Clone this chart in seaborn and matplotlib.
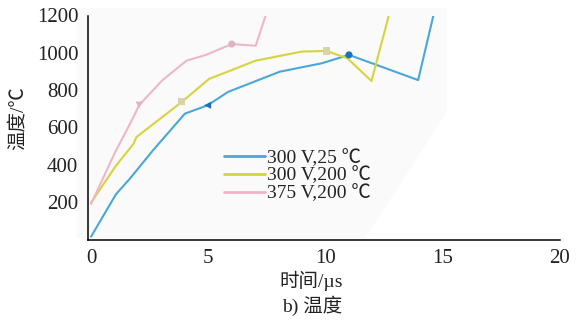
import matplotlib
matplotlib.use("Agg")
import matplotlib.pyplot as plt
from matplotlib.patches import Polygon
import pandas as pd
import seaborn as sns

# Time (µs) and temperature (°C) traces for three operating conditions
blue_t = [0, 1.06, 1.67, 2.63, 4.0, 4.97, 5.85, 8.05, 9.84, 11.0, 13.95, 14.6]
blue_T = [15, 242, 328, 476, 674, 719, 791, 899, 944, 989, 854, 1200]

yellow_t = [0, 1.06, 1.81, 1.93, 3.87, 5.03, 7.02, 9.0, 10.04, 10.93, 11.96, 12.7]
yellow_T = [198, 395, 512, 548, 737, 860, 958, 1007, 1010, 971, 849, 1200]

pink_t = [0, 0.99, 1.81, 2.05, 3.05, 4.07, 4.9, 6.0, 7.02, 7.45]
pink_T = [190, 458, 656, 720, 854, 958, 989, 1047, 1038, 1200]

series_names = ["300 V,25 \u2103", "300 V,200 \u2103", "375 V,200 \u2103"]
x_ticks = [0, 5, 10, 15, 20]
y_ticks = [200, 400, 600, 800, 1000, 1200]

# vertices that carry a point marker on each trace
blue_marks = [5, 9]
yellow_marks = [4, 8]
pink_marks = [3, 7]

colors = ["#4aa7d8", "#d6d43e", "#f0b6c8"]
mark_colors = ["#1b72b8", "#d9d3ac", "#e3b3c2"]

sns.set_theme(style="white")
plt.rcParams["font.family"] = ["Liberation Serif", "Noto Sans CJK SC", "DejaVu Sans"]

fig = plt.figure(figsize=(5.83, 3.23), dpi=100)
fig.patch.set_facecolor("white")

W, H = 583, 323
ax = fig.add_axes([88 / W, 1 - 239.5 / H, (560 - 88) / W, (239.5 - 15.5) / H])
ax.patch.set_alpha(0)

# faint grey backdrop behind the plotting area
poly_px = [(77, 8), (447, 8), (447, 112), (365, 238), (77, 238)]
ax.add_patch(Polygon([(x / W, 1 - y / H) for x, y in poly_px], closed=True,
                     transform=fig.transFigure, facecolor="#fafafa",
                     edgecolor="none", zorder=0, clip_on=False))

frames = []
for name, t, T in zip(series_names, [blue_t, yellow_t, pink_t],
                      [blue_T, yellow_T, pink_T]):
    frames.append(pd.DataFrame({"time": t, "temp": T, "case": name}))
df = pd.concat(frames, ignore_index=True)

sns.lineplot(data=df, x="time", y="temp", hue="case", hue_order=series_names,
             palette=colors, sort=False, estimator=None, linewidth=1.5, ax=ax)

# point markers on the traces
marker_sets = [
    (blue_t, blue_T, blue_marks, ["<", "o"], mark_colors[0]),
    (yellow_t, yellow_T, yellow_marks, ["s", "s"], mark_colors[1]),
    (pink_t, pink_T, pink_marks, ["v", "o"], mark_colors[2]),
]
for t, T, idx, shapes, c in marker_sets:
    for i, m in zip(idx, shapes):
        sns.scatterplot(x=[t[i]], y=[T[i]], marker=m, s=26, color=c,
                        edgecolor="none", ax=ax, legend=False, zorder=5)

ax.set_xlim(-0.13, 20)
ax.set_ylim(0, 1200)
ax.set_xticks(x_ticks)
ax.set_yticks(y_ticks)
ax.tick_params(axis="both", direction="in", length=4, width=1, color="black",
               labelsize=15, labelcolor="#222222")
ax.tick_params(axis="x", pad=7)
ax.tick_params(axis="y", pad=7)
for s in ["top", "right"]:
    ax.spines[s].set_visible(False)
for s in ["left", "bottom"]:
    ax.spines[s].set_color("black")
    ax.spines[s].set_linewidth(1.1)
    ax.spines[s].set_zorder(3)

ax.set_xlabel("")
ax.set_ylabel("")
fig.text(18 / W, 1 - 118 / H, "温度/\u2103", rotation=90, ha="center", va="center",
         fontsize=14, color="#222222")
fig.text(311 / W, 1 - 281 / H, "时间/\u00b5s", ha="center", va="center",
         fontsize=14, color="#222222")
fig.text(312 / W, 1 - 306 / H, "b) 温度", ha="center", va="center",
         fontsize=14, color="#222222")

leg = ax.legend(loc="upper left", bbox_to_anchor=(214 / W, 1 - 139 / H),
                bbox_transform=fig.transFigure, frameon=False, fontsize=14,
                handlelength=2.1, handletextpad=0.15, labelspacing=0.0,
                borderpad=0, title=None)
for line in leg.get_lines():
    line.set_linewidth(2)
for txt in leg.get_texts():
    txt.set_color("#222222")

fig.savefig("out.png", dpi=100, facecolor="white")
